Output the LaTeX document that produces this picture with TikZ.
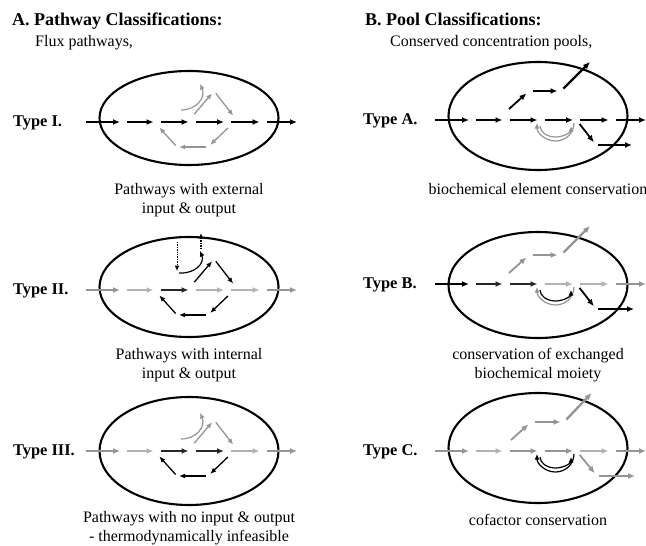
\documentclass[tikz,border=0pt]{standalone}
\usepackage{fontspec}
\setmainfont{Liberation Serif}
\usepackage{tikz}
\usetikzlibrary{positioning}
\usetikzlibrary{arrows.meta}
\usetikzlibrary{shapes.geometric}
\colorlet{midgrey}{black!42}
\colorlet{lightgrey}{black!30}
\colorlet{darkline}{black!85}

\begin{document}
\begin{tikzpicture}[x=1pt,y=-1pt]

	\tikzstyle{rxn}=[line width=1.8pt,-{Latex[length=7pt,width=6pt]},shorten <=3.5pt,shorten >=3.5pt]
	\tikzstyle{xrxn}=[rxn,line width=2.3pt]
	\tikzstyle{cyc}=[line width=1.3pt,-{Latex[length=6pt,width=5pt]},shorten <=3pt,shorten >=3pt]
	\tikzstyle{curv}=[line width=1.2pt,-{Latex[length=5.5pt,width=5pt]}]
	\tikzstyle{ext}=[line width=1.4pt,densely dotted,-{Latex[length=5.5pt,width=5pt]}]
	\tikzstyle{cell}=[ellipse,draw,line width=2.1pt,minimum width=179pt,inner sep=0pt]
	\tikzstyle{heading}=[anchor=base west,inner sep=0pt,text height=12.5pt,text depth=4pt,font=\bfseries\fontsize{18}{21}\selectfont]
	\tikzstyle{typelbl}=[anchor=base west,inner sep=0pt,font=\bfseries\fontsize{16.4}{19}\selectfont]
	\tikzstyle{caption}=[anchor=base,inner sep=0pt,text height=11pt,text depth=3.5pt,font=\fontsize{16}{19}\selectfont]

	\useasboundingbox (0,0) rectangle (646,546);

	% headings
	\node[heading] (heada) at (12,26) {A. Pathway Classifications:};
	\node[caption] (fluxa) [below=5pt of heada.south west,anchor=north west,xshift=23pt] {Flux pathways,};
	\node[heading] (headb) at (365,26) {B. Pool Classifications:};
	\node[caption] (poolb) [below=5pt of headb.south west,anchor=north west,xshift=25pt] {Conserved concentration pools,};

	\node[typelbl] (typei) at (13,126) {Type I.};
	\node[typelbl] (typeii) at (13,294) {Type II.};
	\node[typelbl] (typeiii) at (13,455) {Type III.};
	\node[typelbl] (typea) at (363,124) {Type A.};
	\node[typelbl] (typeb) at (363,288) {Type B.};
	\node[typelbl] (typec) at (363,455) {Type C.};

	\begin{scope}[
	shift={(189,122)}
	]
		\node[cell,minimum height=94pt] (celli) at (0,-4) {};
		\path (-106.5,0) coordinate (ini) (-65.5,0) coordinate (m1i) (-32,0) coordinate (m2i) (3,0) coordinate (m3i)
			(38.5,0) coordinate (m4i) (74,0) coordinate (m5i) (111.5,0) coordinate (outi);
		\path (2,-4) coordinate (c1i) (25,-31) coordinate (c2i) (46,-4) coordinate (c3i) (41,4) coordinate (c4i)
			(19,25) coordinate (c5i) (-12,25) coordinate (c6i) (-31,4) coordinate (c7i) (-8,-12) coordinate (q0i) (11,-38) coordinate (q1i);
		\draw[xrxn] (ini) -- (m1i);
		\draw[rxn] (m1i) -- (m2i);
		\draw[rxn] (m2i) -- (m3i);
		\draw[rxn] (m3i) -- (m4i);
		\draw[rxn] (m4i) -- (m5i);
		\draw[xrxn] (m5i) -- (outi);
		% cycle
		\draw[cyc,midgrey,shorten <=5pt] (c1i) -- (c2i);
		\draw[cyc,midgrey] (c2i) -- (c3i);
		\draw[cyc,midgrey] (c4i) -- (c5i);
		\draw[cyc,midgrey,shorten <=2pt,shorten >=2pt] (c5i) -- (c6i);
		\draw[cyc,midgrey,shorten <=2pt,shorten >=2pt] (c6i) -- (c7i);
		\draw[curv,midgrey] (q0i) .. controls (8,-12) and (17,-25) .. (q1i);
		\node[caption] (capi) at (0,72) {Pathways with external};
		\node[caption] (capib) [below=4.5pt of capi] {input \& output};
	\end{scope}

	\begin{scope}[
	shift={(189,290)}
	]
		\node[cell,minimum height=100pt] (cellii) at (0,-3) {};
		\path (-106.5,0) coordinate (inii) (-65.5,0) coordinate (m1ii) (-32,0) coordinate (m2ii) (3,0) coordinate (m3ii)
			(38.5,0) coordinate (m4ii) (74,0) coordinate (m5ii) (111.5,0) coordinate (outii);
		\path (2,-4) coordinate (c1ii) (25,-31) coordinate (c2ii) (46,-4) coordinate (c3ii) (41,4) coordinate (c4ii)
			(19,25) coordinate (c5ii) (-12,25) coordinate (c6ii) (-31,4) coordinate (c7ii) (-10,-17) coordinate (q0ii) (11,-39) coordinate (q1ii);
		\path (-12,-48) coordinate (d0ii) (-12,-19) coordinate (d1ii) (12,-41) coordinate (d2ii) (12,-57) coordinate (d3ii);
		\draw[xrxn,midgrey] (inii) -- (m1ii);
		\draw[rxn,lightgrey] (m1ii) -- (m2ii);
		\draw[rxn,darkline] (m2ii) -- (m3ii);
		\draw[rxn,lightgrey] (m3ii) -- (m4ii);
		\draw[rxn,lightgrey] (m4ii) -- (m5ii);
		\draw[xrxn,midgrey] (m5ii) -- (outii);
		% cycle
		\draw[cyc,shorten <=5pt] (c1ii) -- (c2ii);
		\draw[cyc] (c2ii) -- (c3ii);
		\draw[cyc] (c4ii) -- (c5ii);
		\draw[cyc,shorten <=2pt,shorten >=2pt] (c5ii) -- (c6ii);
		\draw[cyc,shorten <=2pt,shorten >=2pt] (c6ii) -- (c7ii);
		\draw[curv] (q0ii) .. controls (6,-16) and (16,-27) .. (q1ii);
		\draw[ext,line width=1pt] (d0ii) -- (d1ii);
		\draw[ext] (d2ii) -- (d3ii);
		\node[caption] (capii) at (0,69) {Pathways with internal};
		\node[caption] (capiib) [below=4.5pt of capii] {input \& output};
	\end{scope}

	\begin{scope}[
	shift={(189,451)}
	]
		\node[cell,minimum height=108pt] (celliii) at (0,0) {};
		\path (-106.5,0) coordinate (iniii) (-65.5,0) coordinate (m1iii) (-32,0) coordinate (m2iii) (3,0) coordinate (m3iii)
			(38.5,0) coordinate (m4iii) (74,0) coordinate (m5iii) (111.5,0) coordinate (outiii);
		\path (2,-4) coordinate (c1iii) (25,-31) coordinate (c2iii) (46,-4) coordinate (c3iii) (41,4) coordinate (c4iii)
			(19,25) coordinate (c5iii) (-12,25) coordinate (c6iii) (-31,4) coordinate (c7iii) (-8,-12) coordinate (q0iii) (11,-38) coordinate (q1iii);
		\draw[xrxn,midgrey] (iniii) -- (m1iii);
		\draw[rxn,lightgrey] (m1iii) -- (m2iii);
		\draw[rxn,darkline] (m2iii) -- (m3iii);
		\draw[rxn,darkline] (m3iii) -- (m4iii);
		\draw[rxn,lightgrey] (m4iii) -- (m5iii);
		\draw[xrxn,midgrey] (m5iii) -- (outiii);
		% cycle
		\draw[cyc,midgrey,shorten <=5pt] (c1iii) -- (c2iii);
		\draw[cyc,midgrey] (c2iii) -- (c3iii);
		\draw[cyc] (c4iii) -- (c5iii);
		\draw[cyc,shorten <=2pt,shorten >=2pt] (c5iii) -- (c6iii);
		\draw[cyc,shorten <=2pt,shorten >=2pt] (c6iii) -- (c7iii);
		\draw[curv,midgrey] (q0iii) .. controls (8,-12) and (17,-25) .. (q1iii);
		\node[caption] (capiii) at (0,71) {Pathways with no input \& output};
		\node[caption] (capiiib) [below=4.5pt of capiii] {- thermodynamically infeasible};
	\end{scope}

	\begin{scope}[
	shift={(538,120)}
	]
		\node[cell,minimum height=108pt] (cella) at (0,-4) {};
		\path (-106.5,0) coordinate (ina) (-65.5,0) coordinate (m1a) (-32,0) coordinate (m2a) (3,0) coordinate (m3a)
			(38.5,0) coordinate (m4a) (74,0) coordinate (m5a) (111.5,0) coordinate (outa);
		\path (-29,-11) coordinate (b0a) (-9,-29) coordinate (b1a) (23,-29) coordinate (b2a) (54.5,-60.5) coordinate (b3a)
			(58,25) coordinate (b4a) (95,25) coordinate (b5a);
		\path (36,3) coordinate (r1a) (-1,3) coordinate (r2a) (2,6) coordinate (r3a) (33,6) coordinate (r4a);
		\draw[xrxn] (ina) -- (m1a);
		\draw[rxn] (m1a) -- (m2a);
		\draw[rxn] (m2a) -- (m3a);
		\draw[rxn] (m3a) -- (m4a);
		\draw[rxn] (m4a) -- (m5a);
		\draw[xrxn] (m5a) -- (outa);
		% branches
		\draw[rxn,shorten <=0pt] (b0a) -- (b1a);
		\draw[rxn] (b1a) -- (b2a);
		\draw[xrxn] (b2a) -- (b3a);
		\draw[rxn,shorten <=5pt] (m4a) -- (b4a);
		\draw[xrxn,shorten <=2pt,shorten >=1pt] (b4a) -- (b5a);
		% pool
		\draw[curv,midgrey] (r1a) .. controls (36,13) and (27.7,21) .. (17.5,21) .. controls (7.3,21) and (-1,13) .. (r2a);
		\draw[curv,midgrey] (r3a) .. controls (2,12) and (9,17) .. (17.5,17) .. controls (26,17) and (33,12) .. (r4a);
		\node[caption] (capa) at (0,74) {biochemical element conservation};
	\end{scope}

	\begin{scope}[
	shift={(538,284)}
	]
		\node[cell,minimum height=106pt] (cellb) at (0,1) {};
		\path (-106.5,0) coordinate (inb) (-65.5,0) coordinate (m1b) (-32,0) coordinate (m2b) (3,0) coordinate (m3b)
			(38.5,0) coordinate (m4b) (74,0) coordinate (m5b) (111.5,0) coordinate (outb);
		\path (-29,-11) coordinate (b0b) (-9,-29) coordinate (b1b) (23,-29) coordinate (b2b) (54.5,-60.5) coordinate (b3b)
			(58,25) coordinate (b4b) (97,25) coordinate (b5b);
		\path (36,3) coordinate (r1b) (-1,3) coordinate (r2b) (2,6) coordinate (r3b) (33,6) coordinate (r4b);
		\draw[xrxn] (inb) -- (m1b);
		\draw[rxn,darkline] (m1b) -- (m2b);
		\draw[rxn,darkline] (m2b) -- (m3b);
		\draw[rxn,lightgrey] (m3b) -- (m4b);
		\draw[rxn,lightgrey] (m4b) -- (m5b);
		\draw[xrxn,midgrey] (m5b) -- (outb);
		% branches
		\draw[rxn,midgrey,shorten <=0pt] (b0b) -- (b1b);
		\draw[rxn,midgrey] (b1b) -- (b2b);
		\draw[xrxn,midgrey] (b2b) -- (b3b);
		\draw[rxn,shorten <=5pt] (m4b) -- (b4b);
		\draw[xrxn,shorten <=2pt,shorten >=1pt] (b4b) -- (b5b);
		% pool
		\draw[curv,midgrey] (r1b) .. controls (36,13) and (27.7,21) .. (17.5,21) .. controls (7.3,21) and (-1,13) .. (r2b);
		\draw[curv] (r3b) .. controls (2,12) and (9,17) .. (17.5,17) .. controls (26,17) and (33,12) .. (r4b);
		\node[caption] (capb) at (0,75) {conservation of exchanged};
		\node[caption] (capbb) [below=4.5pt of capb] {biochemical moiety};
	\end{scope}

	\begin{scope}[
	shift={(538,451)}
	]
		\node[cell,minimum height=110pt] (cellc) at (0,-3) {};
		\path (-106.5,0) coordinate (inc) (-65.5,0) coordinate (m1c) (-32,0) coordinate (m2c) (3,0) coordinate (m3c)
			(38.5,0) coordinate (m4c) (74,0) coordinate (m5c) (111.5,0) coordinate (outc);
		\path (-27,-11) coordinate (b0c) (-7,-29) coordinate (b1c) (26,-29) coordinate (b2c) (56,-60.5) coordinate (b3c)
			(59,25) coordinate (b4c) (98,25) coordinate (b5c);
		\path (36,3) coordinate (r1c) (-1,3) coordinate (r2c) (2,6) coordinate (r3c) (33,6) coordinate (r4c);
		\draw[xrxn,midgrey] (inc) -- (m1c);
		\draw[rxn,lightgrey] (m1c) -- (m2c);
		\draw[rxn,midgrey] (m2c) -- (m3c);
		\draw[rxn,midgrey] (m3c) -- (m4c);
		\draw[rxn,lightgrey] (m4c) -- (m5c);
		\draw[xrxn,midgrey] (m5c) -- (outc);
		% branches
		\draw[rxn,midgrey,shorten <=0pt] (b0c) -- (b1c);
		\draw[rxn,midgrey] (b1c) -- (b2c);
		\draw[xrxn,midgrey] (b2c) -- (b3c);
		\draw[rxn,midgrey,shorten <=5pt] (m4c) -- (b4c);
		\draw[xrxn,midgrey,shorten <=2pt,shorten >=1pt] (b4c) -- (b5c);
		% pool
		\draw[curv] (r1c) .. controls (36,13) and (27.7,21) .. (17.5,21) .. controls (7.3,21) and (-1,13) .. (r2c);
		\draw[curv] (r3c) .. controls (2,12) and (9,17) .. (17.5,17) .. controls (26,17) and (33,12) .. (r4c);
		\node[caption] (capc) at (0,74) {cofactor conservation};
	\end{scope}

\end{tikzpicture}
\end{document}
